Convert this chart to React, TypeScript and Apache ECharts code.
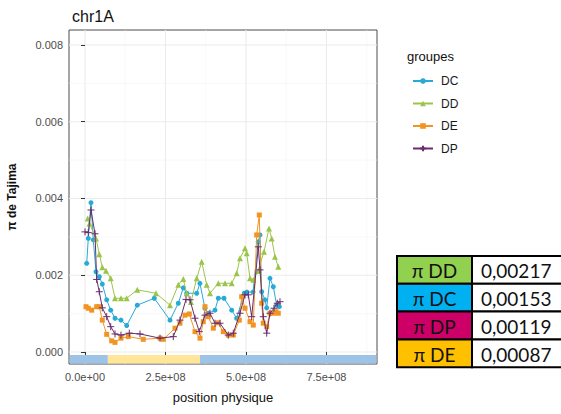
import React, { useEffect, useRef } from 'react';
import * as echarts from 'echarts';

const seriesNames = ['DC', 'DD', 'DE', 'DP'];
const seriesColors = ['#27AAD6', '#9BC54A', '#F29423', '#6B2D6B'];

const dcData = [
  [5.3e6, 0.00231], [1.02e7, 0.00296], [1.86e7, 0.00389], [2.58e7, 0.00292], [3.42e7, 0.00209],
  [4.44e7, 0.00196], [5.37e7, 0.00177], [6.74e7, 0.00136], [7.98e7, 0.00109], [9.32e7, 0.00088],
  [1.118e8, 0.00083], [1.295e8, 0.00069], [1.624e8, 0.00122], [2.152e8, 0.0014], [2.64e8, 0.00083],
  [2.898e8, 0.00127], [3.053e8, 0.00167], [3.159e8, 0.00153], [3.47e8, 0.00153], [3.57e8, 0.00179],
  [3.726e8, 0.00114], [3.83e8, 0.00101], [4.038e8, 0.00109], [4.14e8, 0.0014], [4.317e8, 0.0014],
  [4.556e8, 0.00109], [4.71e8, 0.00088], [4.948e8, 0.00153], [5.03e8, 0.00156], [5.218e8, 0.00156],
  [5.38e8, 0.00287], [5.436e8, 0.00305], [5.488e8, 0.00157], [5.59e8, 0.00136], [5.644e8, 0.00115],
  [5.746e8, 0.00192], [5.849e8, 0.0017], [5.954e8, 0.00122], [6.035e8, 0.00118],
];

const ddData = [
  [8.4e6, 0.00348], [1.4e7, 0.00335], [3.42e7, 0.00296], [4.44e7, 0.00255], [5.37e7, 0.00221],
  [6.52e7, 0.00212], [7.98e7, 0.00192], [9.32e7, 0.0014], [1.118e8, 0.0014], [1.295e8, 0.0014],
  [1.624e8, 0.00162], [2.205e8, 0.00153], [2.64e8, 0.00122], [2.898e8, 0.00175], [3.053e8, 0.0019],
  [3.159e8, 0.00153], [3.292e8, 0.0013], [3.47e8, 0.00192], [3.625e8, 0.00235], [3.78e8, 0.00175],
  [3.883e8, 0.00153], [4.14e8, 0.00179], [4.348e8, 0.00179], [4.556e8, 0.00179], [4.712e8, 0.00205],
  [4.814e8, 0.00244], [4.97e8, 0.0027], [5.023e8, 0.00257], [5.125e8, 0.00192], [5.228e8, 0.00188],
  [5.373e8, 0.00211], [5.56e8, 0.00261], [5.715e8, 0.00322], [5.799e8, 0.00296], [5.901e8, 0.00248],
  [6.004e8, 0.00222],
];

const deData = [
  [3.1e6, 0.00118], [1.02e7, 0.00114], [2.08e7, 0.00109], [3.63e7, 0.00118], [4.44e7, 0.00118],
  [5.37e7, 0.00083], [6.74e7, 0.00046], [8.29e7, 0.00029], [9.32e7, 0.00025], [1.118e8, 0.00036],
  [1.345e8, 0.0004], [1.81e8, 0.00033], [2.33e8, 0.00036], [2.432e8, 0.00033], [2.795e8, 0.00062],
  [2.95e8, 0.00075], [3.106e8, 0.00096], [3.24e8, 0.00099], [3.417e8, 0.00053], [3.572e8, 0.00036],
  [3.674e8, 0.00079], [3.727e8, 0.00118], [3.83e8, 0.00092], [3.985e8, 0.00062], [4.13e8, 0.00076],
  [4.296e8, 0.00053], [4.45e8, 0.00044], [4.606e8, 0.00044], [4.793e8, 0.00083], [4.867e8, 0.00144],
  [4.97e8, 0.00114], [5.125e8, 0.00079], [5.228e8, 0.0007], [5.333e8, 0.00305], [5.414e8, 0.00357],
  [5.488e8, 0.00127], [5.538e8, 0.00075], [5.644e8, 0.00066], [5.746e8, 0.00101], [5.849e8, 0.00101],
  [5.932e8, 0.00105], [6.004e8, 0.00101],
];

const dpData = [
  [0, 0.00313], [1.02e7, 0.00311], [1.86e7, 0.0037], [3.11e7, 0.00308], [3.63e7, 0.00189],
  [4.44e7, 0.00157], [5.37e7, 0.00115], [6.74e7, 0.00092], [7.98e7, 0.00066], [9.32e7, 0.00047],
  [1.118e8, 0.00044], [1.376e8, 0.00049], [1.708e8, 0.00047], [2.33e8, 0.00036], [2.743e8, 0.0004],
  [2.95e8, 0.00083], [3.137e8, 0.00137], [3.261e8, 0.00136], [3.417e8, 0.00088], [3.55e8, 0.00053],
  [3.727e8, 0.00096], [3.883e8, 0.00101], [4.038e8, 0.00075], [4.193e8, 0.00075], [4.45e8, 0.00044],
  [4.606e8, 0.00049], [4.814e8, 0.00101], [4.97e8, 0.00149], [5.072e8, 0.00149], [5.178e8, 0.00092],
  [5.383e8, 0.00274], [5.436e8, 0.00214], [5.538e8, 0.00092], [5.644e8, 0.00049], [5.746e8, 0.00101],
  [5.87e8, 0.00114], [5.973e8, 0.00127], [6.057e8, 0.00131],
];

const allData = [dcData, ddData, deData, dpData];

const xTicks = [0, 2.5e8, 5e8, 7.5e8];
const xTickLabels = ['0.0e+00', '2.5e+08', '5.0e+08', '7.5e+08'];
const xMinor = [1.25e8, 3.75e8, 6.25e8, 8.75e8];
const yTicks = [0, 0.002, 0.004, 0.006, 0.008];
const yTickLabels = ['0.000', '0.002', '0.004', '0.006', '0.008'];
const yMinor = [0.001, 0.003, 0.005, 0.007];

// bottom band segments: start, end, colour index
const bandStarts = [-4.7e7, 7.1e7, 3.57e8];
const bandEnds = [7.1e7, 3.57e8, 9.05e8];
const bandColors = ['#9DC3E6', '#FFE699', '#9DC3E6'];

const tableLabels = ['π DD', 'π DC', 'π DP', 'π DE'];
const tableValues = ['0,00217', '0,00153', '0,00119', '0,00087'];
const tableColors = ['#92D050', '#00B0F0', '#CC0066', '#FFC000'];

const X_MIN = -4.97e7;
const X_MAX = 9.07e8;
const Y_MIN = -0.000313;
const Y_MAX = 0.00839;
const BAND_TOP = -0.00008;
const BAND_BOTTOM = -0.0003;

const crossPath = 'path://M0,5L10,5M5,0L5,10';

function findLabel(ticks: number[], labels: string[], v: number) {
  const i = ticks.findIndex((t) => Math.abs(t - v) < 1e-9 * Math.max(1, Math.abs(t)));
  return i >= 0 ? labels[i] : '';
}

export default function App() {
  const ref = useRef<HTMLDivElement>(null);
  useEffect(() => {
    const chart = echarts.init(ref.current!, null, { renderer: 'svg' });

    const gridData: number[][] = [];
    xTicks.forEach((v) => gridData.push([v, 0, 0]));
    xMinor.forEach((v) => gridData.push([v, 0, 1]));
    yTicks.forEach((v) => gridData.push([v, 1, 0]));
    yMinor.forEach((v) => gridData.push([v, 1, 1]));

    const bandData = bandStarts.map((s, i) => [s, bandEnds[i], i]);

    const symbols = ['circle', 'triangle', 'rect', crossPath];
    const sizes = [5, 6, 5, 7];

    const tableGraphics: any[] = [];
    const tx0 = 397, tx1 = 472, tx2 = 566, ty0 = 256, rowH = 27.8;
    tableLabels.forEach((lab, i) => {
      const y = ty0 + i * rowH;
      tableGraphics.push({
        type: 'rect', shape: { x: tx0, y, width: tx1 - tx0, height: rowH },
        style: { fill: tableColors[i], stroke: '#000', lineWidth: 2 }, z: 10,
      });
      tableGraphics.push({
        type: 'rect', shape: { x: tx1, y, width: tx2 - tx1, height: rowH },
        style: { fill: '#fff', stroke: '#000', lineWidth: 2 }, z: 10,
      });
      tableGraphics.push({
        type: 'text', x: (tx0 + tx1) / 2, y: y + rowH / 2 + 1, z: 11,
        style: { text: lab, fill: '#111', font: '19px Lato', align: 'center', verticalAlign: 'middle' },
      });
      tableGraphics.push({
        type: 'text', x: 481, y: y + rowH / 2 + 1, z: 11,
        style: { text: tableValues[i], fill: '#111', font: '19px Lato', align: 'left', verticalAlign: 'middle' },
      });
    });

    chart.setOption({
      animation: false,
      textStyle: { fontFamily: 'Liberation Sans, Arial, sans-serif' },
      title: {
        text: 'chr1A', left: 67, top: 3,
        textStyle: { fontSize: 16, fontWeight: 'normal', color: '#111' },
      },
      legend: {
        data: seriesNames, orient: 'vertical', left: 407, top: 70,
        itemWidth: 20, itemHeight: 7, itemGap: 10.5,
        textStyle: { fontSize: 12, color: '#1a1a1a', padding: [0, 0, 0, 3] },
      },
      grid: {
        left: 69, top: 30, width: 308, height: 334, show: true,
        borderColor: '#4d4d4d', borderWidth: 1, backgroundColor: '#fff',
      },
      xAxis: {
        type: 'value', min: X_MIN, max: X_MAX,
        axisLine: { show: false },
        splitLine: { show: false },
        axisTick: { show: true, customValues: xTicks, length: 4, lineStyle: { color: '#333' } },
        axisLabel: {
          customValues: xTicks, margin: 7, fontSize: 11, color: '#4d4d4d',
          formatter: (v: number) => findLabel(xTicks, xTickLabels, v),
        },
      },
      yAxis: {
        type: 'value', min: Y_MIN, max: Y_MAX,
        axisLine: { show: false },
        splitLine: { show: false },
        axisTick: { show: true, customValues: yTicks, length: 4, lineStyle: { color: '#333' } },
        axisLabel: {
          customValues: yTicks, margin: 6, fontSize: 11, color: '#4d4d4d',
          formatter: (v: number) => findLabel(yTicks, yTickLabels, v),
        },
      },
      graphic: [
        {
          type: 'text', x: 12, y: 197, rotation: Math.PI / 2,
          style: { text: 'π de Tajima', font: 'bold 12px Liberation Sans', fill: '#111', align: 'center', verticalAlign: 'middle' },
        },
        {
          type: 'text', x: 223, y: 397,
          style: { text: 'position physique', font: '13px Liberation Sans', fill: '#111', align: 'center', verticalAlign: 'middle' },
        },
        {
          type: 'text', x: 407, y: 56,
          style: { text: 'groupes', font: '13px Liberation Sans', fill: '#111', align: 'left', verticalAlign: 'middle' },
        },
        ...tableGraphics,
      ],
      series: [
        {
          type: 'custom', silent: true, z: 0, data: gridData,
          renderItem: (params: any, api: any) => {
            const cs = params.coordSys;
            const v = api.value(0);
            const isY = api.value(1) === 1;
            const minor = api.value(2) === 1;
            const style = { stroke: minor ? '#F3F3F3' : '#EBEBEB', lineWidth: minor ? 0.6 : 1.1 };
            if (!isY) {
              const px = api.coord([v, 0])[0];
              return { type: 'line', shape: { x1: px, y1: cs.y, x2: px, y2: cs.y + cs.height }, style };
            }
            const py = api.coord([0, v])[1];
            return { type: 'line', shape: { x1: cs.x, y1: py, x2: cs.x + cs.width, y2: py }, style };
          },
        },
        {
          type: 'custom', silent: true, z: 1, data: bandData,
          renderItem: (params: any, api: any) => {
            const cs = params.coordSys;
            const p1 = api.coord([api.value(0), BAND_TOP]);
            const p2 = api.coord([api.value(1), BAND_BOTTOM]);
            const x1 = Math.max(cs.x + 0.5, p1[0]);
            const x2 = Math.min(cs.x + cs.width - 0.5, p2[0]);
            return {
              type: 'rect', shape: { x: x1, y: p1[1], width: x2 - x1, height: p2[1] - p1[1] },
              style: { fill: bandColors[api.value(2)] },
            };
          },
        },
        ...seriesNames.map((name, i) => ({
          name, type: 'line', data: allData[i], symbol: symbols[i], symbolSize: sizes[i],
          showSymbol: true, z: 3 + i,
          lineStyle: { color: seriesColors[i], width: 1 },
          itemStyle: i === 3
            ? { color: seriesColors[i], borderColor: seriesColors[i], borderWidth: 1 }
            : { color: seriesColors[i], borderWidth: 0 },
        })),
      ],
    });
    return () => chart.dispose();
  }, []);
  return <div ref={ref} style={{ width: 561, height: 414, position: 'absolute', left: 0, top: 0 }} />;
}
